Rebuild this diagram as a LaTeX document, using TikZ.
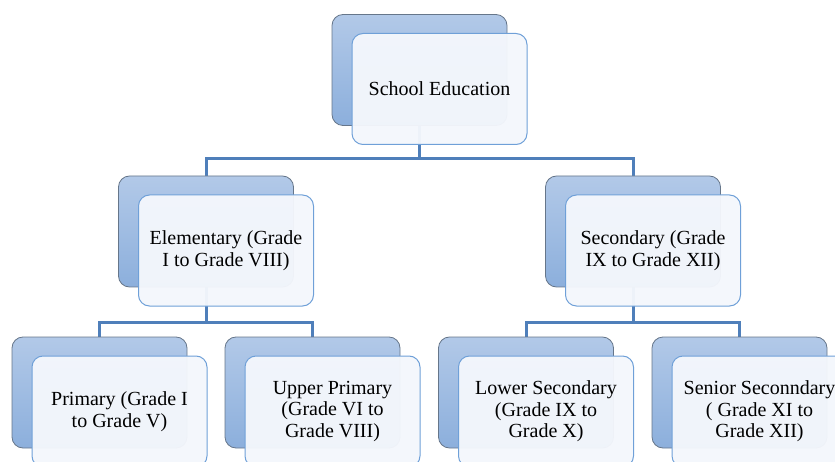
\documentclass[tikz,border=0pt]{standalone}
\usepackage{fontspec}
\setmainfont{Liberation Serif}
\usetikzlibrary{positioning, backgrounds}
\definecolor{backtop}{HTML}{B2C9E8}
\definecolor{backbot}{HTML}{8CAFDC}
\definecolor{backline}{HTML}{66768A}
\definecolor{frontfill}{HTML}{F4F7FC}
\definecolor{frontline}{HTML}{6FA0D8}
\definecolor{linkblue}{HTML}{4F7FBA}
\tikzstyle{backbox} = [rectangle, rounded corners=11pt, minimum width=175pt, minimum height=111pt, draw=backline, line width=0.8pt, top color=backtop, bottom color=backbot]
\tikzstyle{frontbox} = [rectangle, rounded corners=11pt, minimum width=175pt, minimum height=111pt, draw=frontline, line width=1pt, fill=frontfill, fill opacity=0.96, text opacity=1, align=center, font=\fontsize{20}{21.5}\selectfont]
\tikzstyle{connector} = [draw=linkblue, line width=3pt]

\begin{document}
\begin{tikzpicture}[x=1pt, y=-1pt]
    \useasboundingbox (0,0) rectangle (835,462);
    % Back boxes
    \node [backbox] (school) at (419.5,70) {};
    \node [backbox] (elem) at (206,231.5) {};
    \node [backbox] (sec) at (633,231.5) {};
    \node [backbox] (prim) at (99.5,392.5) {};
    \node [backbox] (upper) at (312.5,392.5) {};
    \node [backbox] (lower) at (526,392.5) {};
    \node [backbox] (senior) at (739.5,392.5) {};

    % Front boxes
    \node [frontbox] (schoolF) at ([shift={(20,19)}]school.center) {School Education};
    \node [frontbox] (elemF) at ([shift={(20,19)}]elem.center) {Elementary (Grade\\I to Grade VIII)};
    \node [frontbox] (secF) at ([shift={(20,19)}]sec.center) {Secondary (Grade\\IX to Grade XII)};
    \node [frontbox] (primF) at ([shift={(20,19)}]prim.center) {Primary (Grade I\\to Grade V)};
    \node [frontbox] (upperF) at ([shift={(20,19)}]upper.center) {Upper Primary\\(Grade VI to\\Grade VIII)};
    \node [frontbox] (lowerF) at ([shift={(20,19)}]lower.center) {Lower Secondary\\(Grade IX to\\Grade X)};
    \node [frontbox] (seniorF) at ([shift={(20,19)}]senior.center) {Senior Seconndary\\( Grade XI to\\Grade XII)};

    % Connectors
    \begin{scope}[on background layer]
        \path [connector] (school.south) -- ++(0,33) -| (elem.north);
        \path [connector] (school.south) -- ++(0,33) -| (sec.north);
        \path [connector] (elem.south) -- ++(0,35) -| (prim.north);
        \path [connector] (elem.south) -- ++(0,35) -| (upper.north);
        \path [connector] (sec.south) -- ++(0,35) -| (lower.north);
        \path [connector] (sec.south) -- ++(0,35) -| (senior.north);
    \end{scope}
\end{tikzpicture}
\end{document}
